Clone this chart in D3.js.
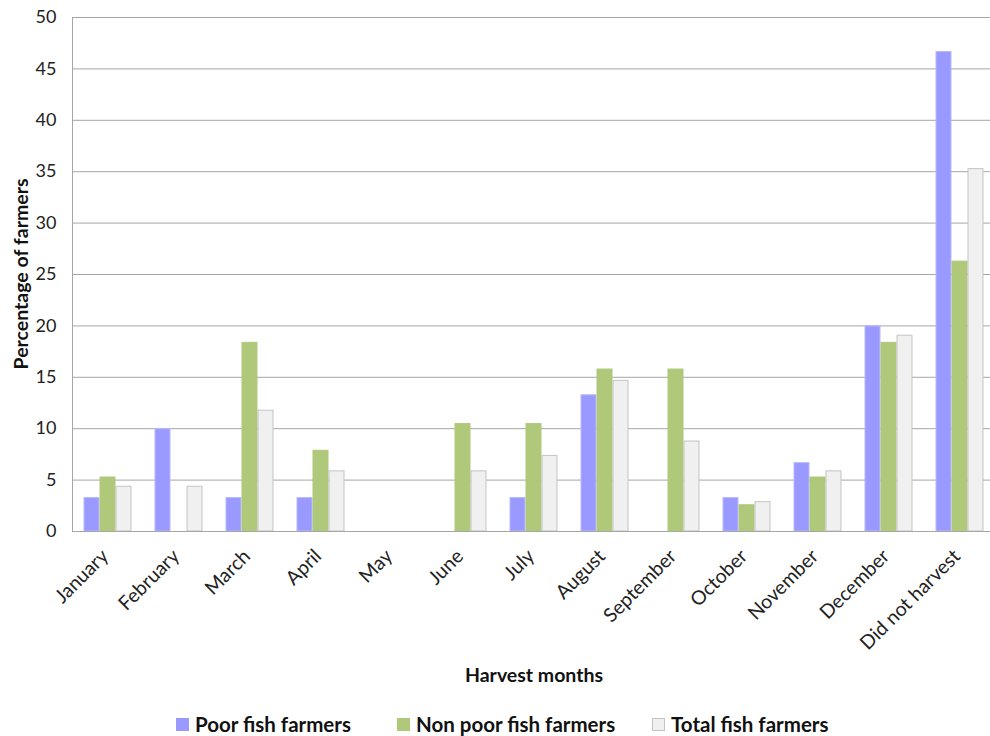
<!DOCTYPE html>
<html>
<head>
<meta charset="utf-8">
<script src="https://cdn.jsdelivr.net/npm/d3@7/dist/d3.min.js"></script>
<style>
  html, body { margin: 0; padding: 0; background: #fff; }
  svg { display: block; font-family: "Lato", "Open Sans", sans-serif; }
</style>
</head>
<body>
<svg id="chart" width="990" height="736"></svg>
<script>
// Harvest month categories
const months = ["January", "February", "March", "April", "May", "June", "July",
  "August", "September", "October", "November", "December", "Did not harvest"];

// Percentage of farmers harvesting in each month
const poorFarmers    = [3.3, 10.0, 3.3, 3.3, 0, 0, 3.3, 13.3, 0, 3.3, 6.7, 20.0, 46.7];
const nonPoorFarmers = [5.3, 0, 18.4, 7.9, 0, 10.5, 10.5, 15.8, 15.8, 2.6, 5.3, 18.4, 26.3];
const totalFarmers   = [4.4, 4.4, 11.8, 5.9, 0, 5.9, 7.4, 14.7, 8.8, 2.9, 5.9, 19.1, 35.3];

const seriesNames = ["Poor fish farmers", "Non poor fish farmers", "Total fish farmers"];
const yTicks = [0, 5, 10, 15, 20, 25, 30, 35, 40, 45, 50];

const seriesData = [poorFarmers, nonPoorFarmers, totalFarmers];
const fills   = ["#9999ff", "#afc87a", "#f0f0f0"];
const strokes = ["#b8b8ff", "#afc87a", "#c4c4c4"];

const svg = d3.select("#chart");
const plot = { left: 72, right: 995, top: 17, bottom: 531 };

const x = d3.scaleBand().domain(months).range([plot.left, plot.right]).paddingInner(0).paddingOuter(0);
const y = d3.scaleLinear().domain([0, 50]).range([plot.bottom, plot.top]);
const groupWidth = 48;
const xs = d3.scaleBand().domain(d3.range(3)).range([0, groupWidth]);

// Horizontal gridlines
svg.append("g")
  .selectAll("line")
  .data(yTicks.filter(t => t > 0))
  .join("line")
  .attr("x1", plot.left).attr("x2", plot.right)
  .attr("y1", d => y(d) + 0.5).attr("y2", d => y(d) + 0.5)
  .attr("stroke", "#a6a6a6").attr("stroke-width", 1);

// Bars
const groups = svg.append("g")
  .selectAll("g")
  .data(months)
  .join("g")
  .attr("transform", d => `translate(${x(d) + (x.bandwidth() - groupWidth) / 2},0)`);

groups.selectAll("rect")
  .data((m, i) => seriesData.map((s, k) => ({ k, v: s[i] })).filter(d => d.v > 0))
  .join("rect")
  .attr("x", d => xs(d.k) + 0.5)
  .attr("y", d => y(d.v) + 0.5)
  .attr("width", xs.bandwidth() - 1)
  .attr("height", d => y(0) - y(d.v) - 0.5)
  .attr("fill", d => fills[d.k])
  .attr("stroke", d => strokes[d.k])
  .attr("stroke-width", 1);

// Y axis
const yAxis = svg.append("g")
  .attr("transform", `translate(${plot.left + 0.5},0)`)
  .call(d3.axisLeft(y).tickValues(yTicks).tickSize(0).tickPadding(16));
yAxis.select(".domain").attr("stroke", "#a6a6a6").attr("d", `M0,${plot.top}V${plot.bottom}`);
yAxis.selectAll("text").attr("font-size", 18).attr("fill", "#222").attr("font-family", "Lato, sans-serif");

// X axis
const xAxis = svg.append("g")
  .attr("transform", `translate(0,${plot.bottom + 0.5})`)
  .call(d3.axisBottom(x).tickSize(0).tickPadding(0));
xAxis.select(".domain").attr("stroke", "#a6a6a6").attr("d", `M${plot.left},0H${plot.right}`);
xAxis.selectAll("text")
  .attr("font-size", 19.5).attr("fill", "#222").attr("font-family", "Lato, sans-serif")
  .attr("text-anchor", "end")
  .attr("dy", "0")
  .attr("transform", "translate(2,26) rotate(-45)");

// Axis titles
svg.append("text")
  .attr("transform", `translate(28,${(plot.top + plot.bottom) / 2}) rotate(-90)`)
  .attr("text-anchor", "middle")
  .attr("font-size", 19.5).attr("font-weight", "bold").attr("fill", "#111")
  .text("Percentage of farmers");

svg.append("text")
  .attr("x", 534).attr("y", 682)
  .attr("text-anchor", "middle")
  .attr("font-size", 19.5).attr("font-weight", "bold").attr("fill", "#111")
  .text("Harvest months");

// Legend
const legendX = [176, 397, 652];
const legend = svg.append("g")
  .selectAll("g")
  .data(seriesNames)
  .join("g")
  .attr("transform", (d, i) => `translate(${legendX[i]},718)`);
legend.append("rect")
  .attr("x", 0.5).attr("y", 0.5).attr("width", 12).attr("height", 12)
  .attr("fill", (d, i) => fills[i])
  .attr("stroke", (d, i) => i === 2 ? "#c4c4c4" : fills[i]);
legend.append("text")
  .attr("x", 19).attr("y", 14)
  .attr("font-size", 20.5).attr("font-weight", "bold").attr("fill", "#111")
  .text(d => d);
</script>
</body>
</html>
